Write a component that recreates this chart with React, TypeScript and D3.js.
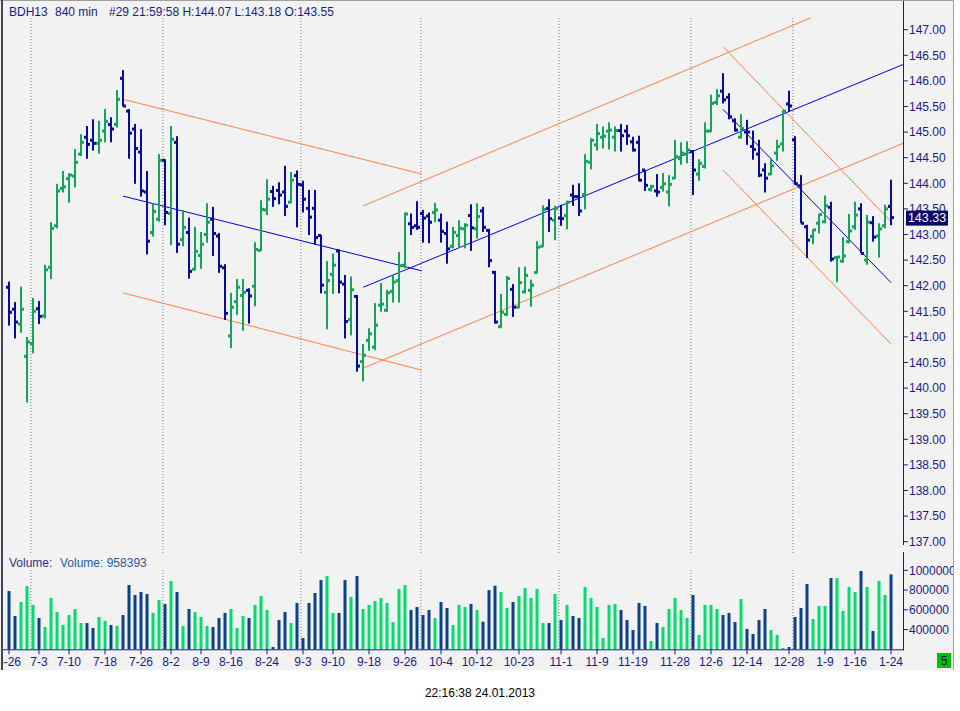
import React from "react";
import * as d3 from "d3";

// daily bars, BDH13 (840 min), 2012-06-26 .. 2013-01-24
const opens = [
  141.97, 141.54, 141.25, 140.62, 140.87, 141.55, 141.41, 142.36, 143.17, 143.9,
  144.09, 144.14, 144.57, 144.9, 144.84, 144.78, 145.02, 145.15, 145.15, 146.05,
  145.41, 145.06, 144.61, 143.83, 143.04, 143.3, 144.45, 143.41, 144.8, 142.9,
  143.04, 142.32, 142.59, 143.0, 143.3, 142.97, 142.35, 141.02, 141.69, 141.81,
  141.91, 141.99, 142.69, 143.48, 143.84, 143.86, 143.83, 143.63, 144.15, 143.97,
  143.51, 143.51, 142.98, 141.87, 142.22, 142.68, 142.03, 141.34, 141.79, 140.52,
  140.93, 140.8, 141.62, 141.52, 141.89, 142.1, 142.4, 143.21, 143.17, 143.41,
  143.36, 143.43, 143.28, 143.02, 142.77, 142.98, 143.11, 143.37, 143.11, 143.46,
  143.08, 142.26, 141.2, 141.44, 141.93, 141.58, 141.88, 141.91, 142.26, 142.77,
  143.51, 143.28, 143.32, 143.37, 143.77, 143.74, 143.78, 144.41, 144.75, 144.9,
  145.02, 144.9, 145.03, 145.02, 144.81, 144.8, 144.26, 143.88, 143.85, 143.92,
  143.83, 144.1, 144.48, 144.57, 144.62, 144.18, 144.33, 145.02, 145.58, 145.8,
  145.68, 145.22, 144.9, 145.0, 144.72, 144.57, 144.26, 144.18, 144.59, 144.77,
  145.55, 144.85, 143.95, 143.15, 142.96, 143.22, 143.25, 143.53, 142.55, 142.48,
  142.86, 143.15, 143.5, 142.5, 143.23, 142.97, 143.17, 143.55,
];
const highs = [
  142.08, 141.68, 141.98, 141.0, 141.76, 141.7, 142.41, 143.24, 143.99, 144.24,
  144.2, 144.67, 144.96, 145.12, 145.25, 145.22, 145.45, 145.29, 145.82, 146.21,
  145.45, 145.16, 145.06, 144.24, 143.61, 144.57, 144.47, 145.12, 144.92, 143.48,
  143.33, 143.15, 143.05, 143.61, 143.54, 143.03, 142.42, 141.86, 142.13, 142.13,
  141.95, 142.85, 143.67, 144.08, 143.95, 144.02, 144.34, 144.22, 144.25, 144.05,
  143.87, 143.87, 142.99, 142.48, 142.63, 142.71, 142.21, 142.18, 141.82, 140.86,
  141.17, 141.66, 142.05, 141.92, 142.21, 142.66, 143.43, 143.41, 143.65, 143.48,
  143.43, 143.62, 143.41, 143.25, 143.15, 143.28, 143.22, 143.59, 143.61, 143.54,
  143.11, 142.29, 141.84, 142.19, 142.03, 142.36, 142.37, 142.12, 142.87, 143.57,
  143.69, 143.56, 143.58, 143.66, 143.97, 144.0, 144.57, 144.88, 145.16, 145.11,
  145.19, 145.11, 145.16, 145.14, 144.91, 144.93, 144.26, 143.97, 144.18, 144.2,
  144.16, 144.85, 144.8, 144.82, 144.65, 144.47, 145.19, 145.73, 145.84, 146.15,
  145.76, 145.27, 145.35, 145.24, 145.03, 144.85, 144.39, 144.49, 144.85, 145.43,
  145.81, 144.92, 144.16, 143.19, 143.1, 143.4, 143.76, 143.64, 142.57, 142.95,
  143.4, 143.64, 143.61, 143.38, 143.36, 143.22, 143.58, 144.07,
];
const lows = [
  141.22, 140.97, 141.08, 139.72, 140.68, 141.25, 141.36, 142.13, 143.12, 143.82,
  143.62, 143.92, 144.53, 144.48, 144.64, 144.58, 144.8, 144.8, 145.09, 145.5,
  144.48, 143.99, 143.74, 142.61, 142.96, 143.25, 143.18, 142.79, 142.64, 142.77,
  142.14, 142.3, 142.33, 142.84, 142.58, 142.25, 141.33, 140.78, 141.43, 141.12,
  141.26, 141.6, 142.68, 143.38, 143.54, 143.59, 143.36, 143.62, 143.14, 143.43,
  142.99, 142.8, 141.85, 141.15, 141.84, 141.85, 140.97, 141.03, 140.32, 140.13,
  140.73, 140.74, 141.49, 141.49, 141.67, 141.67, 142.34, 142.99, 143.09, 142.84,
  142.83, 143.24, 142.84, 142.43, 142.73, 142.74, 142.73, 142.68, 142.92, 143.05,
  142.36, 141.26, 141.17, 141.41, 141.39, 141.56, 141.85, 141.59, 142.24, 142.76,
  143.05, 142.89, 143.17, 143.1, 143.56, 143.36, 143.49, 144.27, 144.64, 144.68,
  144.66, 144.62, 144.62, 144.75, 144.62, 144.04, 143.85, 143.84, 143.74, 143.84,
  143.55, 144.09, 144.36, 144.39, 143.77, 144.05, 144.29, 145.0, 145.53, 145.56,
  145.25, 145.01, 144.88, 144.75, 144.46, 144.12, 143.82, 144.16, 144.44, 144.62,
  145.4, 143.97, 143.22, 142.54, 142.81, 143.02, 143.22, 142.47, 142.07, 142.45,
  142.83, 143.09, 142.63, 142.41, 142.86, 142.55, 143.12, 143.18,
];
const closes = [
  141.48, 141.29, 141.54, 140.9, 141.5, 141.4, 142.31, 143.12, 143.85, 143.93,
  144.16, 144.41, 144.8, 144.76, 144.78, 144.84, 145.21, 145.06, 145.64, 145.51,
  144.98, 144.68, 143.85, 142.87, 143.45, 144.45, 143.43, 144.86, 142.81, 143.14,
  142.28, 142.67, 142.81, 143.24, 143.02, 142.38, 141.46, 141.58, 141.97, 141.87,
  141.8, 142.71, 143.49, 143.69, 143.7, 143.77, 143.55, 144.06, 143.98, 143.69,
  143.34, 142.94, 142.01, 142.1, 142.4, 142.07, 141.3, 141.92, 140.43, 140.64,
  141.06, 141.23, 141.64, 141.86, 142.07, 142.39, 143.4, 143.14, 143.14, 143.32,
  143.24, 143.48, 143.06, 142.72, 143.04, 143.12, 143.18, 143.13, 143.35, 143.14,
  142.49, 141.29, 141.48, 142.14, 141.58, 142.06, 142.2, 142.01, 142.75, 143.49,
  143.31, 143.51, 143.31, 143.63, 143.74, 143.46, 144.43, 144.84, 144.97, 144.92,
  145.04, 145.03, 144.93, 144.93, 144.65, 144.06, 143.96, 143.94, 143.83, 143.99,
  143.98, 144.52, 144.59, 144.65, 144.26, 144.39, 145.02, 145.56, 145.71, 145.63,
  145.3, 145.04, 145.07, 145.0, 144.66, 144.16, 144.1, 144.34, 144.72, 145.41,
  145.51, 143.99, 143.22, 142.89, 143.09, 143.39, 143.56, 142.52, 142.56, 142.58,
  143.07, 143.38, 142.63, 143.24, 142.95, 143.11, 143.5, 143.33,
];
const volumes = [
  790000, 537000, 679000, 841000, 649000, 517000, 426000, 720000, 578000, 446000,
  547000, 608000, 466000, 466000, 416000, 527000, 487000, 446000, 436000, 547000,
  851000, 750000, 780000, 760000, 568000, 699000, 659000, 892000, 780000, 436000,
  608000, 578000, 527000, 436000, 426000, 517000, 568000, 608000, 416000, 537000,
  517000, 649000, 740000, 598000, 223000, 497000, 578000, 466000, 669000, 314000,
  669000, 770000, 902000, 942000, 568000, 568000, 902000, 730000, 942000, 608000,
  649000, 689000, 720000, 669000, 476000, 811000, 851000, 598000, 628000, 547000,
  598000, 517000, 679000, 618000, 446000, 649000, 628000, 659000, 598000, 480000,
  800000, 844000, 780000, 618000, 679000, 740000, 821000, 720000, 811000, 466000,
  466000, 760000, 497000, 649000, 537000, 517000, 831000, 720000, 628000, 314000,
  649000, 659000, 598000, 497000, 395000, 669000, 639000, 284000, 466000, 426000,
  608000, 720000, 598000, 517000, 750000, 345000, 649000, 649000, 608000, 547000,
  568000, 476000, 709000, 406000, 355000, 497000, 608000, 395000, 345000, 213000,
  223000, 527000, 618000, 861000, 507000, 639000, 639000, 922000, 922000, 588000,
  831000, 780000, 993000, 831000, 385000, 892000, 750000, 958393,
];

const tickIndex = [0, 5, 10, 16, 22, 27, 32, 37, 43, 49, 54, 60, 66, 72, 78, 85, 92, 98, 104, 111, 117, 123, 130, 136, 141, 147];
const tickLabels = ["6-26", "7-3", "7-10", "7-18", "7-26", "8-2", "8-9", "8-16", "8-24", "9-3", "9-10", "9-18", "9-26", "10-4", "10-12", "10-23", "11-1", "11-9", "11-19", "11-28", "12-6", "12-14", "12-28", "1-9", "1-16", "1-24"];
const monthStarts = [4, 26, 49, 69, 92, 114, 131];

// header pieces
const headerParts = ["BDH13", "840 min", "#29 21:59:58 H:144.07 L:143.18 O:143.55"];

// trend channels: [index, price] endpoints
const orangeLines = [
  [[19, 145.64], [68.8, 144.18]],
  [[19, 141.86], [68.8, 140.35]],
  [[59.05, 143.56], [149, 147.99]],
  [[59.05, 140.39], [149, 144.78]],
  [[119, 146.67], [147, 143.25]],
  [[119, 144.26], [147, 140.86]],
];
const blueLines = [
  [[19, 143.75], [68.8, 142.29]],
  [[59.05, 141.97], [149, 146.32]],
  [[119, 145.445], [147, 142.06]],
];

const priceTicks = d3.range(137, 147.001, 0.5);
const volumeTicks = [400000, 600000, 800000, 1000000];

const W = 960;
const H = 711;
const font = "'Liberation Sans', Arial, sans-serif";
const navy = "#1a1a86";
const upCol = "#14a55c";
const dnCol = "#0a0a9e";
const volUp = "#00dd6a";
const volDn = "#0b418a";

export default function App() {
  const xs = d3.scaleLinear().domain([0, 147]).range([9, 891]);
  const ys = d3.scaleLinear().domain([137, 147]).range([541.7, 29.7]);
  const vs = d3.scaleLinear().domain([200000, 1000000]).range([649.3, 570.3]);
  const axisX = 903;
  const priceTop = 18;
  const priceBottom = 553;
  const volTop = 570;
  const volBase = vs(200000);
  const seg = d3.line<number[]>().x((d) => xs(d[0])).y((d) => ys(d[1]));
  const last = closes.length - 1;

  return (
    <svg width={W} height={H} style={{ position: "absolute", left: 0, top: 0, display: "block" }} fontFamily={font}>
      <defs>
        <clipPath id="pricePlot">
          <rect x={3} y={priceTop} width={axisX - 3} height={priceBottom - priceTop} />
        </clipPath>
        <clipPath id="panel">
          <rect x={3} y={0} width={950} height={670} />
        </clipPath>
      </defs>
      <rect x={0} y={0} width={W} height={H} fill="#ffffff" />
      <rect x={0} y={0} width={954} height={670} fill="#f2f2f2" />
      <line x1={0} x2={954} y1={0.5} y2={0.5} stroke="#a0a0a0" />
      <line x1={953.5} x2={953.5} y1={0} y2={670} stroke="#a0a0a0" />
      <line x1={2} x2={2} y1={0} y2={670} stroke="#454558" strokeWidth={2} />

      {/* header */}
      <g fontSize={12} fill={navy}>
        <text x={9} y={16}>{headerParts[0]}</text>
        <text x={55} y={16}>{headerParts[1]}</text>
        <text x={109} y={16}>{headerParts[2]}</text>
      </g>

      {/* month gridlines */}
      {monthStarts.map((m) => (
        <g key={m}>
          <line x1={xs(m - 0.35)} x2={xs(m - 0.35)} y1={priceTop} y2={priceBottom} stroke="#808080" strokeDasharray="1,2" />
          <line x1={xs(m - 0.35)} x2={xs(m - 0.35)} y1={volTop} y2={volBase} stroke="#808080" strokeDasharray="1,2" />
        </g>
      ))}

      {/* trend channels */}
      <g clipPath="url(#pricePlot)" fill="none">
        {orangeLines.map((l, k) => (
          <path key={"o" + k} d={seg(l) || ""} stroke="#ff7f40" strokeWidth={1} />
        ))}
        {blueLines.map((l, k) => (
          <path key={"b" + k} d={seg(l) || ""} stroke="#0000f0" strokeWidth={1} />
        ))}
      </g>

      {/* OHLC bars */}
      <g clipPath="url(#pricePlot)">
        {closes.map((c, i) => {
          const col = c > opens[i] ? upCol : dnCol;
          const x = xs(i);
          return (
            <g key={i} fill={col}>
              <rect x={x - 1} y={ys(highs[i])} width={2} height={Math.max(1, ys(lows[i]) - ys(highs[i]))} />
              <rect x={x - 3} y={ys(opens[i]) - 1.5} width={3} height={3} />
              <rect x={x} y={ys(c) - 1.5} width={3} height={3} />
            </g>
          );
        })}
      </g>

      {/* price axis */}
      <line x1={axisX + 0.5} x2={axisX + 0.5} y1={1} y2={545} stroke={navy} />
      {priceTicks.map((p) => (
        <g key={p}>
          <line x1={axisX} x2={axisX + 5} y1={ys(p)} y2={ys(p)} stroke={navy} />
          <text x={axisX + 6} y={ys(p)} dy="0.35em" fontSize={12} fill={navy}>
            {d3.format(".2f")(p)}
          </text>
        </g>
      ))}
      <rect x={906} y={ys(closes[last]) - 7} width={42} height={15} fill="#05056a" />
      <text x={927} y={ys(closes[last])} dy="0.36em" fontSize={12.5} fill="#ffffff" textAnchor="middle">
        {d3.format(".2f")(closes[last])}
      </text>

      {/* volume panel */}
      <text x={9} y={567} fontSize={12} fill="#3a2a88">Volume:</text>
      <text x={60} y={567} fontSize={12} fill="#2a5a9c">{"Volume: " + volumes[last]}</text>
      {volumes.map((v, i) => (
        <rect
          key={i}
          x={xs(i) - 1.5}
          y={vs(v)}
          width={3}
          height={Math.max(0, volBase - vs(v))}
          fill={closes[i] > opens[i] ? volUp : volDn}
        />
      ))}
      <line x1={3} x2={axisX + 1} y1={volBase + 0.5} y2={volBase + 0.5} stroke={navy} />
      <line x1={axisX + 0.5} x2={axisX + 0.5} y1={552} y2={volBase + 1} stroke={navy} />
      <g clipPath="url(#panel)">
        {volumeTicks.map((v) => (
          <g key={v}>
            <line x1={axisX} x2={axisX + 5} y1={vs(v)} y2={vs(v)} stroke={navy} />
            <text x={axisX + 6} y={vs(v)} dy="0.35em" fontSize={12} fill={navy}>
              {String(v)}
            </text>
          </g>
        ))}
        {tickIndex.map((ti, k) => (
          <g key={ti}>
            <line x1={xs(ti)} x2={xs(ti)} y1={volBase} y2={volBase + 5} stroke={navy} />
            <text x={xs(ti)} y={666} fontSize={12} fill={navy} textAnchor="middle">
              {tickLabels[k]}
            </text>
          </g>
        ))}
      </g>

      <rect x={937} y={653} width={14} height={15} fill="#00c000" />
      <text x={944} y={665} fontSize={12} fill="#101060" textAnchor="middle">5</text>

      <text x={480} y={697} fontSize={12} fill="#000000" textAnchor="middle">
        22:16:38 24.01.2013
      </text>
    </svg>
  );
}
